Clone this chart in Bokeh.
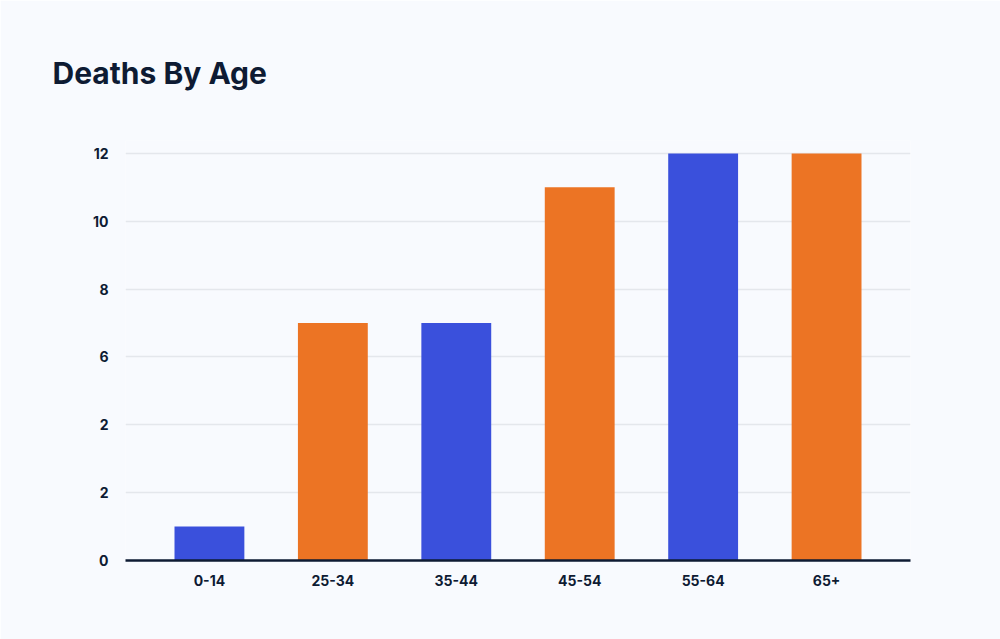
from bokeh.plotting import figure
from bokeh.models import FixedTicker, Title, ColumnDataSource
from bokeh.embed import file_html
from bokeh.resources import INLINE

categories = ["0-14", "25-34", "35-44", "45-54", "55-64", "65+"]
deaths = [1, 7, 7, 11, 12, 12]
colors = ["#3a50dc", "#ec7424", "#3a50dc", "#ec7424", "#3a50dc", "#ec7424"]
y_ticks = [0, 2, 4, 6, 8, 10, 12]
y_tick_labels = ["0", "2", "2", "6", "8", "10", "12"]

BG = "#f8fafe"
NAVY = "#0e1b33"

src = ColumnDataSource(dict(cat=categories, val=deaths, color=colors))

p = figure(x_range=categories, y_range=(0, 12.38), width=1000, height=639,
           output_backend="svg", toolbar_location=None, title=None,
           background_fill_color=BG, border_fill_color=BG,
           min_border_left=125, min_border_right=90, min_border_top=140,
           min_border_bottom=79)
p.x_range.range_padding = 0.06
p.outline_line_color = None

p.vbar(x="cat", top="val", width=0.566, fill_color="color", line_color=None, source=src)

p.yaxis.ticker = FixedTicker(ticks=y_ticks)
p.yaxis.major_label_overrides = {t: l for t, l in zip(y_ticks, y_tick_labels)}
p.yaxis.axis_line_color = None
p.yaxis.major_tick_line_color = None
p.yaxis.minor_tick_line_color = None
p.yaxis.major_label_standoff = 11
p.xaxis.major_tick_line_color = None
p.xaxis.axis_line_color = NAVY
p.xaxis.axis_line_width = 2.5
p.xaxis.major_label_standoff = 8
for ax in (p.xaxis, p.yaxis):
    ax.major_label_text_font = "Inter"
    ax.major_label_text_font_style = "bold"
    ax.major_label_text_font_size = "14px"
    ax.major_label_text_color = NAVY

p.xgrid.grid_line_color = None
p.ygrid.grid_line_color = "#e4e7ec"
p.ygrid.grid_line_width = 1.5

title = Title(text="Deaths By Age", align="left", offset=52 - 125,
              text_font="Inter", text_font_style="bold", text_font_size="30px",
              text_color=NAVY, standoff=100)
p.add_layout(title, "above")

open("out.html", "w").write(file_html(p, INLINE))
